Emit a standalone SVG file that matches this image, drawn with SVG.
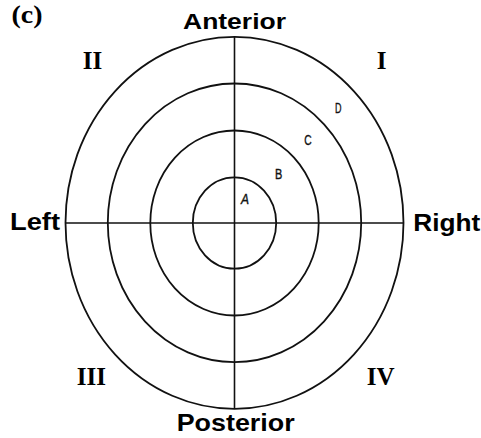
<svg xmlns="http://www.w3.org/2000/svg" width="481" height="438" viewBox="0 0 481 438">
<style>
.ring{fill:none;stroke:#111;stroke-width:1.8}
.axis{stroke:#111;stroke-width:1.6}
.dir{font-family:"Liberation Sans",Arial,sans-serif;font-weight:bold;fill:#000}
.quad{font-family:"Liberation Serif","Times New Roman",serif;font-weight:bold;font-size:25px;fill:#000}
.zone{font-family:"Liberation Sans",Arial,sans-serif;font-size:15px;fill:#111;stroke:#111;stroke-width:0.4}
</style>
<rect width="481" height="438" fill="#fff"/>
<g id="rings">
<ellipse id="ring-outer" class="ring" cx="234.5" cy="222.8" rx="169" ry="186"/>
<ellipse id="ring-3" class="ring" cx="234.5" cy="222.8" rx="126.7" ry="139.3"/>
<ellipse id="ring-2" class="ring" cx="234.5" cy="223" rx="84.2" ry="92.5"/>
<ellipse id="ring-inner" class="ring" cx="234.5" cy="223" rx="41.7" ry="45.7"/>
</g>
<g id="connectors">
<line class="axis" x1="234.5" y1="36.7" x2="234.5" y2="408.7"/>
<line class="axis" x1="65.7" y1="223" x2="403.3" y2="223"/>
</g>
<g id="labels">
<text x="11.5" y="23" font-family="Liberation Serif,serif" font-weight="bold" font-size="26" textLength="31" lengthAdjust="spacingAndGlyphs">(c)</text>
<text class="dir" x="183" y="29" font-size="22" textLength="103" lengthAdjust="spacingAndGlyphs">Anterior</text>
<text class="dir" x="176.7" y="430.7" font-size="24" textLength="118" lengthAdjust="spacingAndGlyphs">Posterior</text>
<text class="dir" x="10" y="230" font-size="24" textLength="50" lengthAdjust="spacingAndGlyphs">Left</text>
<text class="dir" x="413.3" y="231" font-size="24" textLength="67" lengthAdjust="spacingAndGlyphs">Right</text>
<text class="quad" x="82.7" y="68.5">II</text>
<text class="quad" x="376.7" y="68.5">I</text>
<text class="quad" x="76.7" y="384.5">III</text>
<text class="quad" x="366.7" y="384.5">IV</text>
<text class="zone" x="335" y="112.7" textLength="6.5" lengthAdjust="spacingAndGlyphs">D</text>
<text class="zone" x="304.3" y="145" textLength="7.4" lengthAdjust="spacingAndGlyphs">C</text>
<text class="zone" x="275" y="179.3" textLength="7.3" lengthAdjust="spacingAndGlyphs">B</text>
<text class="zone" x="241" y="204.3" font-size="11" font-style="italic" textLength="8" lengthAdjust="spacingAndGlyphs">A</text>
</g>
</svg>
